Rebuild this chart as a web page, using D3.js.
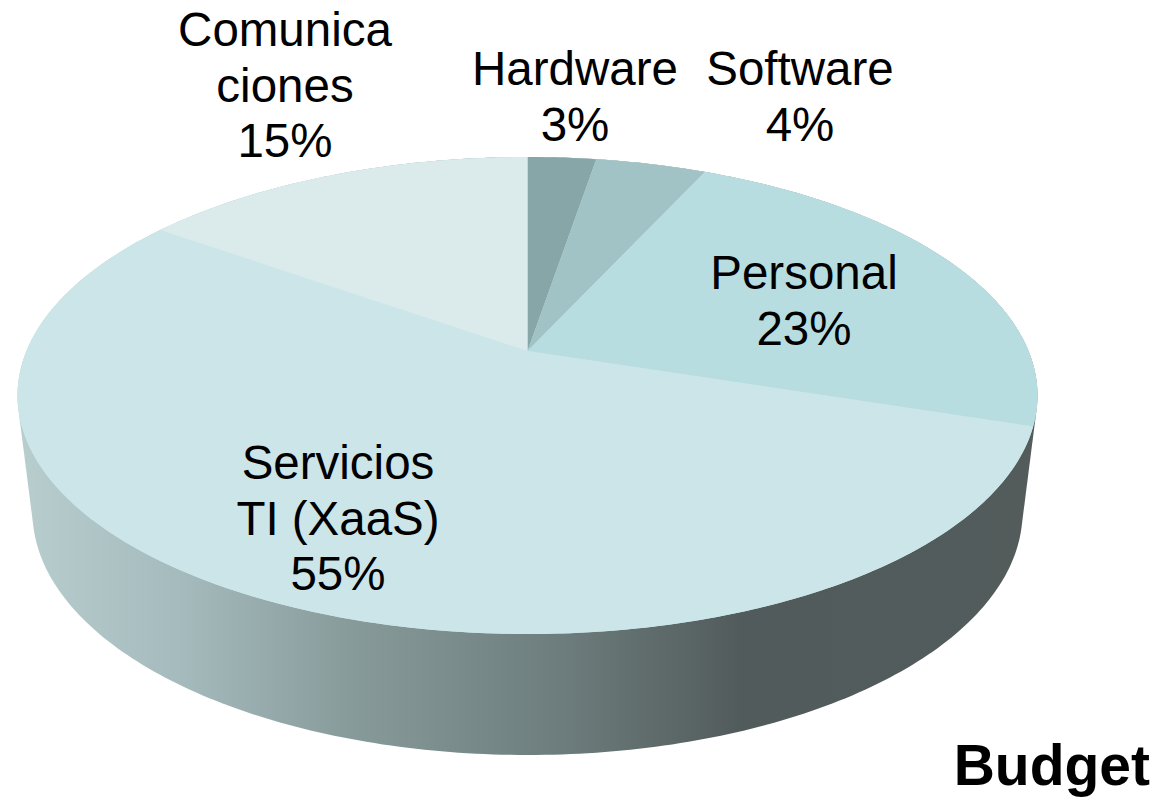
<!DOCTYPE html>
<html><head><meta charset="utf-8">
<script src="https://cdn.jsdelivr.net/npm/d3@7/dist/d3.min.js"></script>
<style>html,body{margin:0;background:#fff}svg{display:block}text{font-family:"Liberation Sans",Arial,sans-serif;fill:#000}</style>
</head><body><svg id="c" width="1160" height="797"></svg>
<script>
const categories = ["Hardware","Software","Personal","Servicios TI (XaaS)","Comunicaciones"];
const values = [2.6,4.2,23.2,54.9,15.1];
const labelLines = [["Hardware"],["Software"],["Personal"],["Servicios","TI (XaaS)"],["Comunica","ciones"]];
const labelCenterX = [575,800,804,338,285];
const labelFirstBaseline = [85,85,289,479,46];
const colors = ["#87a6a8","#a1c3c6","#b8dde0","#cbe5e8","#dbebec"];
const sideStops = [[0,"#b8cdce"],[0.16,"#a5babc"],[0.33,"#879a9a"],[0.52,"#6f7f7f"],[0.71,"#525b5b"],[1,"#535b5b"]];
const title = "Budget";

const svg = d3.select("#c");
// perspective view of the top disc
const cx=527.5, cy=351, k=0.1866, a0=501, b0=230.2;
const project = t => { const u=Math.sin(t), v=Math.cos(t), w=1+k*v; return [cx+a0*u/w, cy-b0*v/w]; };
// lower rim of the disc
const rim = {cy:512, a:495, b:243};
const line = d3.line();
const grad = svg.append("defs").append("linearGradient").attr("id","side")
  .attr("gradientUnits","userSpaceOnUse").attr("x1",20).attr("x2",1035).attr("y1",0).attr("y2",0);
grad.selectAll("stop").data(sideStops).join("stop").attr("offset",d=>d[0]).attr("stop-color",d=>d[1]);

const turns = d3.range(0,360,1).map(d=>d*Math.PI/180);
const rimPts = turns.map(r=>[cx-rim.a*Math.cos(r), rim.cy+rim.b*Math.sin(r)]);
const topPts = turns.map(project);
svg.append("path").attr("d",line(d3.polygonHull([...rimPts,...topPts]))+"Z").attr("fill","url(#side)");

const pie = d3.pie().sort(null).startAngle(0).endAngle(2*Math.PI)(values);
// a base disc hides anti-aliasing seams between the wedges
svg.append("path").attr("d",line(topPts)+"Z").attr("fill",colors[3]);
svg.selectAll("path.w").data(pie).join("path").attr("class","w")
  .attr("fill",(d,i)=>colors[i])
  .attr("d",d=>{
    const n=Math.max(4,Math.ceil((d.endAngle-d.startAngle)*90));
    const pts=d3.range(n+1).map(i=>project(d.startAngle+(d.endAngle-d.startAngle)*i/n));
    return line([[cx,cy],...pts])+"Z";
  });

const fmt = d3.format(".0f");
const lh=55.5;
const g = svg.append("g").attr("text-anchor","middle").attr("font-size",47.5);
categories.forEach((c,i)=>{
  const lines=[...labelLines[i], fmt(values[i])+"%"];
  g.append("text").selectAll("tspan").data(lines).join("tspan")
    .attr("x",labelCenterX[i]).attr("y",(d,j)=>labelFirstBaseline[i]+j*lh).text(d=>d);
});
svg.append("text").attr("x",1150).attr("y",785).attr("text-anchor","end").attr("font-size",57).attr("font-weight","bold").text(title);
</script></body></html>
